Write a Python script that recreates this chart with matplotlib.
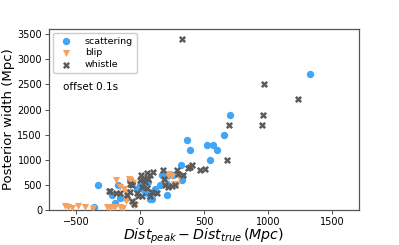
import matplotlib
matplotlib.use("Agg")
import matplotlib.pyplot as plt

# scattering (blue circles)
scat_x = [1330, 700, 656, 526, 570, 601, 549, 365, 388, 318, 325, 325, 260, 208,
          156, 208, 213, 169, 52, 78, 117, -109, -156, -78, -325, -170, -221, -193,
          -357, -65, 0, 30, 120, 60, -20, 91]
scat_y = [2700, 1900, 1500, 1300, 1300, 1200, 1000, 1400, 1200, 900, 600, 680, 700, 675,
          500, 520, 300, 700, 340, 220, 370, 240, 240, 600, 500, 500, 300, 150,
          60, 540, 500, 400, 420, 560, 420, 220]

# blip (orange triangles)
blip_x = [-585, -560, -530, -482, -430, -365, -260, -234, -208, -195, -156, -130, -52,
          -187, -78, -122, -104, -156, -65, 229, 307, 268, 286, 221, -83, -57, 247, 195,
          -109, -39, 20]
blip_y = [75, 60, 40, 80, 60, 50, 60, 45, 55, 60, 55, 50, 100,
          610, 610, 430, 370, 467, 140, 726, 661, 511, 511, 694, 622, 531, 675, 564,
          175, 110, 600]

# whistle (gray X)
whis_x = [330, 970, 1235, 963, 697, 950, 682, 468, 505, 377, 408, 390, 286, 338,
          -242, -187, 182, 104, 5, 52, 190, 221, 247, 0, 39, -65, 13, 57, -26, 13, 78,
          -78, -104, -18, 195, 273, 130, 91, 299, 78, -234, -78, 30, 60, -156, -65, -44]
whis_y = [3400, 2500, 2200, 1900, 1700, 1700, 1000, 803, 811, 836, 900, 855, 791, 694,
          389, 350, 791, 758, 706, 739, 628, 467, 480, 597, 564, 500, 467, 434, 336, 285, 285,
          370, 305, 285, 500, 500, 336, 370, 726, 706, 383, 511, 640, 620, 336, 188, 130]

fig = plt.figure(figsize=(3.99, 2.45), dpi=100)
ax = fig.add_axes([0.1228, 0.142, 0.7769, 0.7396])

ax.scatter(scat_x, scat_y, marker='o', s=28, color='#42A5F5', linewidths=0, label='scattering', zorder=2)
ax.scatter(blip_x, blip_y, marker='v', s=26, color='#F4A261', linewidths=0, label='blip', zorder=3)
ax.scatter(whis_x, whis_y, marker='X', s=26, color='#5A5A5A', linewidths=0, label='whistle', zorder=4)

ax.set_xlim(-710, 1710)
ax.set_ylim(0, 3600)
ax.set_xticks([-500, 0, 500, 1000, 1500])
ax.set_yticks([0, 500, 1000, 1500, 2000, 2500, 3000, 3500])
ax.tick_params(labelsize=7, length=3, width=0.6, color='#333333', pad=2)
for sp in ax.spines.values():
    sp.set_color('#555555')
    sp.set_linewidth(0.9)

ax.set_xlabel(r'$Dist_{peak} - Dist_{true}\,(Mpc)$', fontsize=10.2, labelpad=0)
ax.set_ylabel('Posterior width (Mpc)', fontsize=9.5, labelpad=2)

ax.legend(loc='upper left', fontsize=6.8, frameon=True, borderpad=0.4, handletextpad=1.0,
          labelspacing=0.3, fancybox=True, framealpha=1, edgecolor='#cccccc',
          borderaxespad=0.4)
ax.text(0.045, 0.68, 'offset 0.1s', transform=ax.transAxes, fontsize=7.5, va='center')

fig.savefig('out.png', dpi=100)
